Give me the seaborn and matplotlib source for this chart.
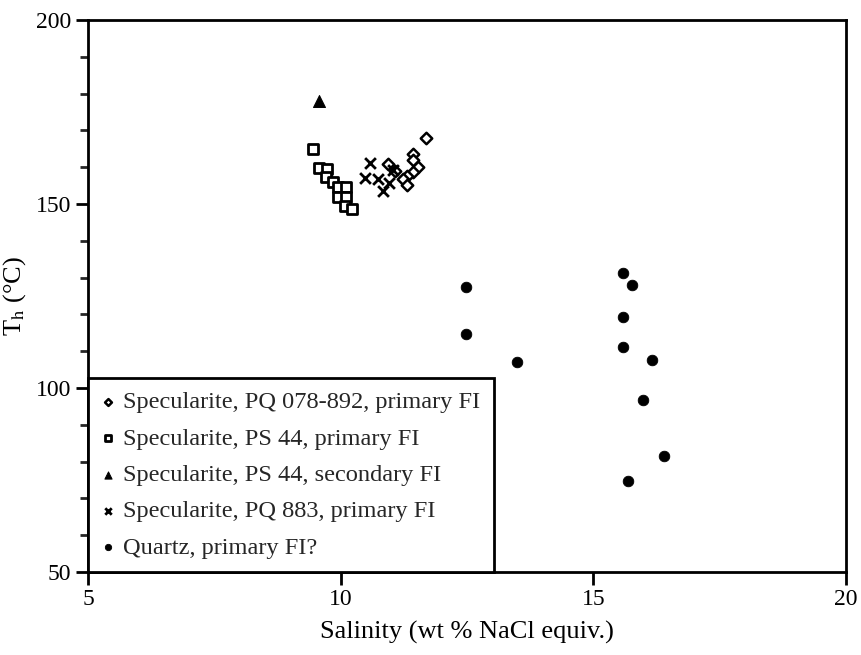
import matplotlib
matplotlib.use("Agg")
import matplotlib.pyplot as plt
import seaborn as sns
import pandas as pd
from matplotlib.ticker import MultipleLocator

sns.set_theme(style="ticks")
plt.rcParams['font.family'] = ['Liberation Serif', 'DejaVu Serif']
plt.rcParams['mathtext.fontset'] = 'stix'

# Specularite, PQ 078-892, primary FI (open diamonds)
pq078_sal = [11.69, 11.44, 11.44, 11.54, 11.44, 11.32, 11.23, 11.32, 10.94, 11.08]
pq078_th = [167.9, 163.6, 162.0, 160.1, 158.8, 157.6, 156.7, 155.2, 160.9, 159.0]
# Specularite, PS 44, primary FI (open squares)
ps44p_sal = [9.46, 9.58, 9.73, 9.71, 9.84, 9.95, 10.10, 9.95, 10.10, 10.08, 10.22]
ps44p_th = [164.9, 159.7, 159.4, 157.4, 156.1, 154.7, 154.7, 151.8, 151.8, 149.5, 148.6]
# Specularite, PS 44, secondary FI (filled triangle)
ps44s_sal = [9.58]
ps44s_th = [178.1]
# Specularite, PQ 883, primary FI (crosses)
pq883_sal = [10.58, 10.48, 10.73, 10.96, 10.84, 11.04]
pq883_th = [161.2, 157.1, 156.7, 155.6, 153.5, 159.2]
# Quartz, primary FI? (filled circles)
qz_sal = [12.48, 12.48, 13.49, 15.58, 15.76, 15.58, 15.58, 16.17, 15.99, 16.39, 15.69]
qz_th = [127.5, 114.7, 107.0, 131.2, 128.1, 119.3, 111.1, 107.6, 96.7, 81.4, 74.8]

labels = ["Specularite, PQ 078-892, primary FI",
          "Specularite, PS 44, primary FI",
          "Specularite, PS 44, secondary FI",
          "Specularite, PQ 883, primary FI",
          "Quartz, primary FI?"]

groups = [
    (pq078_sal, pq078_th, labels[0], dict(marker="D", s=34, facecolor="white", edgecolor="black", linewidth=1.8)),
    (ps44p_sal, ps44p_th, labels[1], dict(marker="s", s=58, facecolor="white", edgecolor="black", linewidth=2.0)),
    (ps44s_sal, ps44s_th, labels[2], dict(marker="^", s=75, color="black", edgecolor="black")),
    (pq883_sal, pq883_th, labels[3], dict(marker="x", s=60, color="black", linewidth=2.0)),
    (qz_sal, qz_th, labels[4], dict(marker="o", s=58, color="black", edgecolor="black")),
]

fig = plt.figure(figsize=(8.61, 6.55), dpi=100)
ax = fig.add_axes([88/861, 83/655, 758/861, 552/655])

for sal, th, lab, kw in groups:
    df = pd.DataFrame({"sal": sal, "th": th})
    sns.scatterplot(data=df, x="sal", y="th", ax=ax, label=lab, zorder=3, **kw)

ax.set_xlim(5, 20)
ax.set_ylim(50, 200)
ax.set_xticks([5, 10, 15, 20])
ax.set_yticks([50, 100, 150, 200])
ax.yaxis.set_minor_locator(MultipleLocator(10))
ax.tick_params(axis="both", which="major", direction="out", length=9, width=2,
               labelsize=17, colors="black", pad=3)
ax.tick_params(axis="y", which="minor", direction="out", length=6, width=2)
for sp in ax.spines.values():
    sp.set_linewidth(2)
    sp.set_color("black")
    sp.set_visible(True)

ax.set_xlabel("Salinity (wt % NaCl equiv.)", fontsize=19, color="black", labelpad=8)
ax.set_ylabel("T$_{\\mathrm{h}}$ (°C)", fontsize=19, color="black", labelpad=6)

leg = ax.legend(loc="lower left", bbox_to_anchor=(0, 0), borderaxespad=0,
                fontsize=17.6, frameon=True, fancybox=False, edgecolor="black",
                framealpha=1, markerscale=0.6, handlelength=0.5, handletextpad=0.4,
                labelspacing=0.58, borderpad=0.55)
leg.get_frame().set_linewidth(2)

fig.savefig("out.png", dpi=100)
